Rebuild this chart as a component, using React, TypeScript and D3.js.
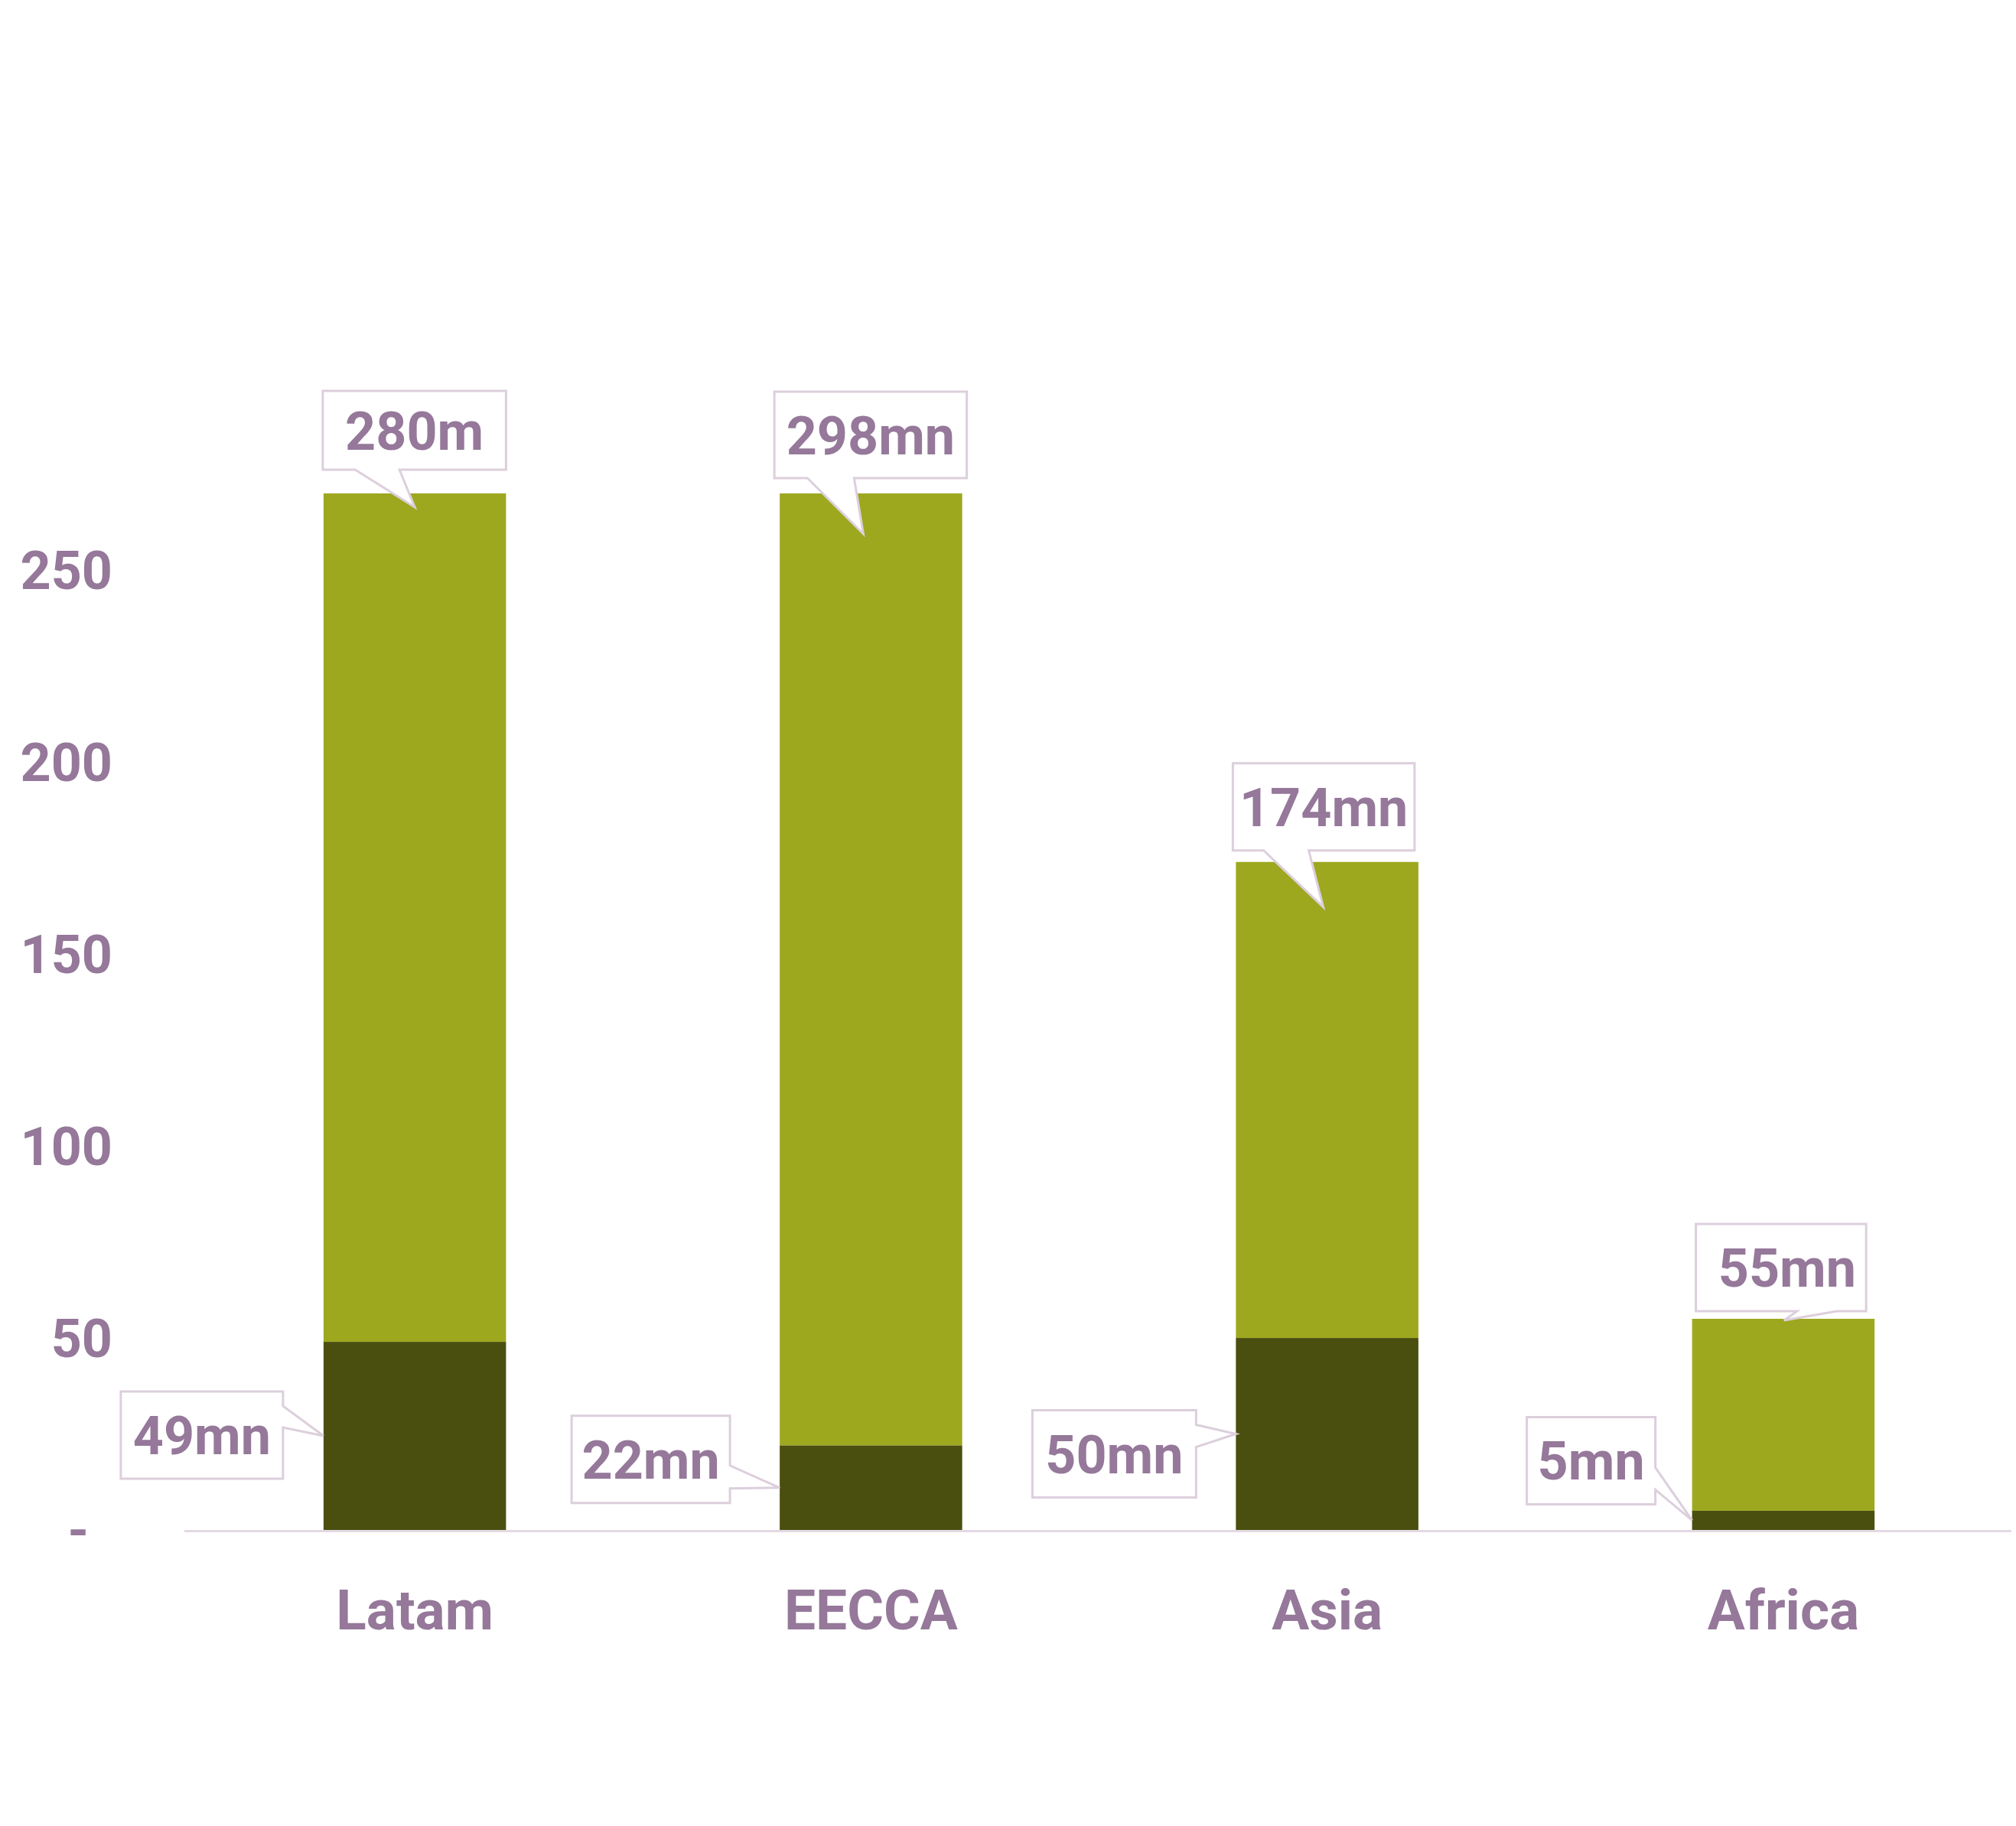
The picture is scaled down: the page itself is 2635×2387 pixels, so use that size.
import React from "react";
import * as d3 from "d3";

// ---- data ----
const categories = ["Latam", "EECCA", "Asia", "Africa"];
const darkValues = [49, 22, 50, 5];
const totalValues = [280, 298, 174, 55];
const topLabels = ["280m", "298mn", "174mn", "55mn"];
const bottomLabels = ["49mn", "22mn", "50mn", "5mn"];
const yTicks = [0, 50, 100, 150, 200, 250];
const yMax = 270;

// ---- layout (annotation offsets) ----
const topLayout = [
  { bl: -1, br: 0, top: -134, h: 103, bA: -20, bB: -78, tdx: 0, tdy: 18, txt: 0 },
  { bl: -7, br: 6, top: -133, h: 113, bA: -22, bB: -83, tdx: -10, tdy: 53, txt: 0 },
  { bl: -4, br: -5, top: -129, h: 114, bA: -24, bB: -83, tdx: -5, tdy: 59, txt: 0 },
  { bl: 5, br: -11, top: -124, h: 114, bA: 70, bB: 18, tdx: 1, tdy: 2, txt: 8 },
];
const bottomLayout = [
  { right: -53, w: 212, top: -58, h: 114, bA: -39, bB: -11 },
  { right: -65, w: 207, top: -94, h: 114, bA: -29, bB: 1 },
  { right: -52, w: 214, top: -31, h: 114, bA: -12, bB: 17 },
  { right: -48, w: 168, top: -135, h: 114, bA: -69, bB: -40 },
];

const W = 2635;
const H = 2387;
const TEXT = "#95789a";
const STROKE = "#dccfdc";
const LIGHT = "#9da81f";
const DARK = "#4a4f10";
const FONT = "Roboto, 'Open Sans', sans-serif";

export default function App() {
  const x = d3
    .scaleBand<string>()
    .domain(categories)
    .range([244, 2629])
    .paddingInner(0.6)
    .paddingOuter(0.3);
  const y = d3.scaleLinear().domain([0, yMax]).range([2000, 645]);
  const bw = x.bandwidth();

  return (
    <svg
      width={W}
      height={H}
      style={{ position: "absolute", left: 0, top: 0, background: "#fff" }}
      fontFamily={FONT}
    >
      <rect x={0} y={0} width={W} height={H} fill="#fff" />
      {/* y tick labels */}
      {yTicks.map((t) => (
        <text
          key={t}
          x={t === 0 ? 116 : 147}
          y={y(t)}
          dy={25}
          textAnchor="end"
          fontSize={70}
          fontWeight={700}
          fill={TEXT}
        >
          {t === 0 ? "-" : d3.format("d")(t)}
        </text>
      ))}
      {/* bars */}
      {categories.map((c, i) => {
        const x0 = x(c)!;
        const total = Math.min(totalValues[i], yMax);
        return (
          <g key={c}>
            <rect x={x0} y={y(total)} width={bw} height={y(darkValues[i]) - y(total)} fill={LIGHT} />
            <rect x={x0} y={y(darkValues[i])} width={bw} height={y(0) - y(darkValues[i])} fill={DARK} />
          </g>
        );
      })}
      {/* axis line */}
      <line x1={241} x2={2629} y1={y(0) + 1.5} y2={y(0) + 1.5} stroke="#e3d9e3" strokeWidth={3} />
      {/* category labels */}
      {categories.map((c) => (
        <text
          key={c}
          x={x(c)! + bw / 2}
          y={2130}
          textAnchor="middle"
          fontSize={73}
          fontWeight={700}
          fill={TEXT}
        >
          {c}
        </text>
      ))}
      {/* top callouts */}
      {categories.map((c, i) => {
        const L = topLayout[i];
        const x0 = x(c)!;
        const cx = x0 + bw / 2;
        const barTop = y(Math.min(totalValues[i], yMax));
        const bx0 = x0 + L.bl;
        const bx1 = x0 + bw + L.br;
        const by0 = barTop + L.top;
        const by1 = by0 + L.h;
        const tip: [number, number] = [cx + L.tdx, barTop + L.tdy];
        const p = d3.path();
        p.moveTo(bx0, by0);
        p.lineTo(bx1, by0);
        p.lineTo(bx1, by1);
        p.lineTo(cx + L.bA, by1);
        p.lineTo(tip[0], tip[1]);
        p.lineTo(cx + L.bB, by1);
        p.lineTo(bx0, by1);
        p.closePath();
        return (
          <g key={"t" + c}>
            <path d={p.toString()} fill="#fff" stroke={STROKE} strokeWidth={3} strokeLinejoin="miter" />
            <text
              x={(bx0 + bx1) / 2 + L.txt}
              y={(by0 + by1) / 2 + 25}
              textAnchor="middle"
              fontSize={70}
              fontWeight={700}
              fill={TEXT}
            >
              {topLabels[i]}
            </text>
          </g>
        );
      })}
      {/* bottom callouts */}
      {categories.map((c, i) => {
        const L = bottomLayout[i];
        const tipX = x(c)!;
        const tipY = (y(darkValues[i]) + y(0)) / 2;
        const bx1 = tipX + L.right;
        const bx0 = bx1 - L.w;
        const by0 = tipY + L.top;
        const by1 = by0 + L.h;
        const p = d3.path();
        p.moveTo(bx0, by0);
        p.lineTo(bx1, by0);
        p.lineTo(bx1, tipY + L.bA);
        p.lineTo(tipX, tipY);
        p.lineTo(bx1, tipY + L.bB);
        p.lineTo(bx1, by1);
        p.lineTo(bx0, by1);
        p.closePath();
        return (
          <g key={"b" + c}>
            <path d={p.toString()} fill="#fff" stroke={STROKE} strokeWidth={3} />
            <text
              x={(bx0 + bx1) / 2}
              y={(by0 + by1) / 2 + 25}
              textAnchor="middle"
              fontSize={70}
              fontWeight={700}
              fill={TEXT}
            >
              {bottomLabels[i]}
            </text>
          </g>
        );
      })}
    </svg>
  );
}
